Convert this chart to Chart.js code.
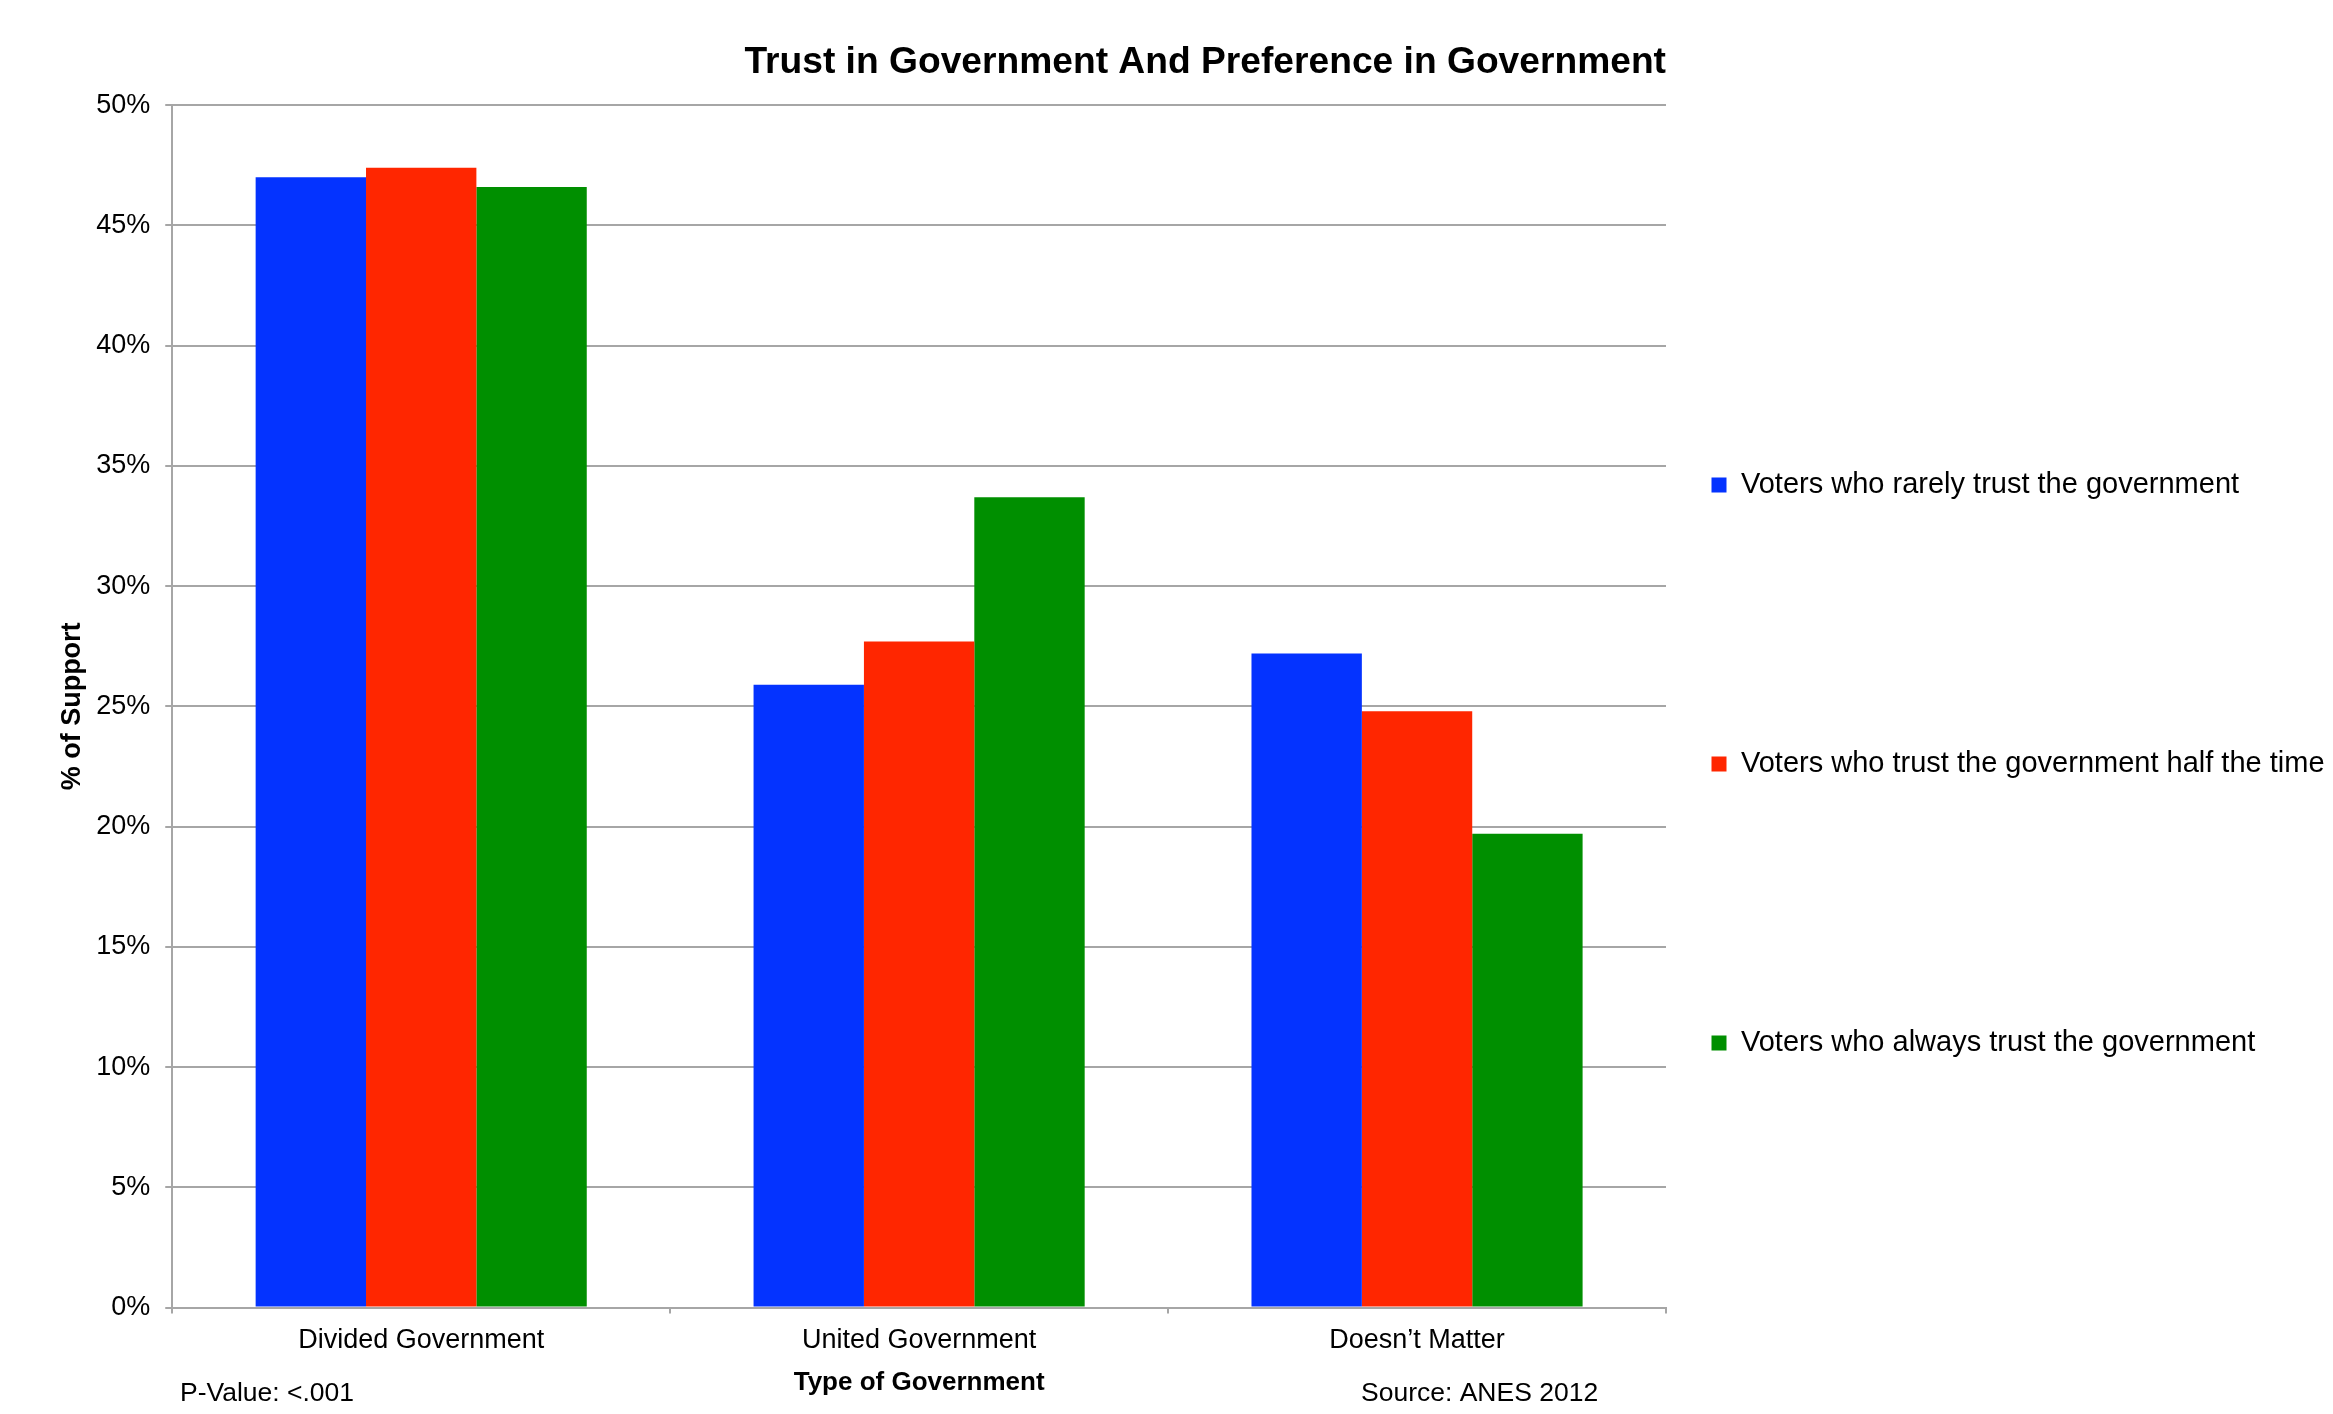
<!DOCTYPE html>
<html>
<head>
<meta charset="utf-8">
<script src="https://cdn.jsdelivr.net/npm/chart.js@4"></script>
<style>
  body { margin: 0; background: #fff; }
</style>
</head>
<body>
<canvas id="trustChart" width="2333" height="1414"></canvas>
<script>
const categories = ["Divided Government", "United Government", "Doesn\u2019t Matter"];
const seriesNames = [
  "Voters who rarely trust the government",
  "Voters who trust the government half the time",
  "Voters who always trust the government",
];
const rarelyTrust = [47.0, 25.9, 27.2];
const halfTrust = [47.4, 27.7, 24.8];
const alwaysTrust = [46.6, 33.7, 19.7];
const barColors = ["#0433ff", "#ff2600", "#008f00"];
const notes = ["P-Value: <.001", "Source: ANES 2012"];

const gridGray = "#a6a6a6";
const fontFamily = "'Liberation Sans', Arial, Helvetica, sans-serif";

Chart.defaults.color = "#000";
Chart.defaults.font.family = fontFamily;

// footnotes under the axis
const notesPlugin = {
  id: "notes",
  afterDraw(chart) {
    const ctx = chart.ctx;
    ctx.save();
    ctx.font = "26.5px " + fontFamily;
    ctx.fillStyle = "#000";
    ctx.textBaseline = "middle";
    ctx.textAlign = "left";
    ctx.fillText(notes[0], 180, 1394);
    ctx.fillText(notes[1], 1361, 1394);
    ctx.restore();
  },
};

new Chart("trustChart", {
  type: "bar",
  data: {
    labels: categories,
    datasets: [
      { label: seriesNames[0], data: rarelyTrust, backgroundColor: barColors[0], borderWidth: 0 },
      { label: seriesNames[1], data: halfTrust, backgroundColor: barColors[1], borderWidth: 0 },
      { label: seriesNames[2], data: alwaysTrust, backgroundColor: barColors[2], borderWidth: 0 },
    ],
  },
  options: {
    responsive: false,
    animation: false,
    layout: { padding: { left: 62, right: 0, top: 0, bottom: 12 } },
    datasets: {
      bar: { categoryPercentage: 0.665, barPercentage: 1.0 },
    },
    scales: {
      x: {
        grid: {
          offset: true,
          drawOnChartArea: false,
          color: gridGray,
          lineWidth: 2,
          tickLength: 6,
        },
        border: { color: gridGray, width: 2 },
        ticks: { font: { size: 27 }, padding: 10.4, color: "#000" },
        title: {
          display: true,
          text: "Type of Government",
          font: { size: 26, weight: "bold" },
          padding: { top: 0, bottom: 4 },
        },
      },
      y: {
        min: 0,
        max: 50,
        grid: { color: gridGray, lineWidth: 2, tickLength: 7 },
        border: { color: gridGray, width: 2 },
        ticks: {
          stepSize: 5,
          padding: 15,
          font: { size: 27 },
          color: "#000",
          callback: (v) => v + "%",
        },
        title: {
          display: true,
          text: "% of Support",
          font: { size: 27, weight: "bold", lineHeight: 0.6 },
          padding: { top: 2, bottom: 1 },
        },
      },
    },
    plugins: {
      title: {
        display: true,
        text: "Trust in Government And Preference in Government",
        fullSize: false,
        align: "end",
        font: { size: 37.2, weight: "bold" },
        color: "#000",
        padding: { top: 40, bottom: 20.5 },
      },
      legend: {
        position: "right",
        fullSize: false,
        align: "end",
        maxWidth: 667,
        labels: {
          boxWidth: 15,
          boxHeight: 15,
          padding: 45.5,
          color: "#000",
          font: { size: 29, lineHeight: "233.5px" },
          generateLabels(chart) {
            const items = Chart.defaults.plugins.legend.labels.generateLabels(chart);
            // one-line arrays so the font lineHeight sets the gap between items
            items.forEach((item) => { item.text = [item.text]; });
            return items;
          },
        },
      },
      tooltip: { enabled: false },
    },
  },
  plugins: [notesPlugin],
});
</script>
</body>
</html>
